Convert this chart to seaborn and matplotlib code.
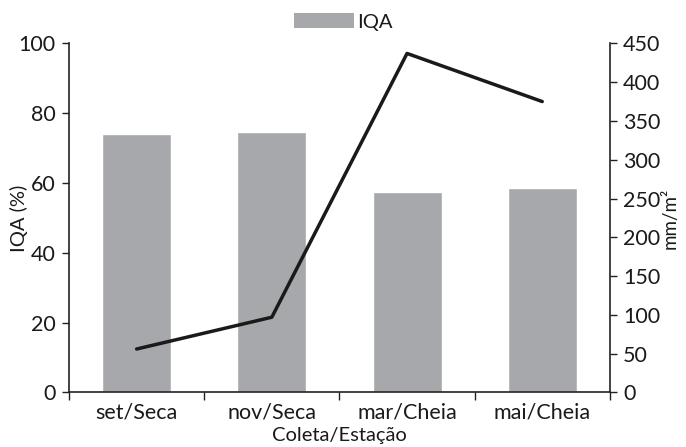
import matplotlib
matplotlib.use("Agg")
import matplotlib.pyplot as plt
from matplotlib.patches import Patch
import seaborn as sns
import pandas as pd

categories = ["set/Seca", "nov/Seca", "mar/Cheia", "mai/Cheia"]
iqa_values = [74.0, 74.6, 57.4, 58.5]
mm_values = [56, 97, 437, 375]
left_ticks = [0, 20, 40, 60, 80, 100]
right_ticks = [0, 50, 100, 150, 200, 250, 300, 350, 400, 450]

sns.set_theme(style="white")
plt.rcParams["font.family"] = ["Lato", "DejaVu Sans"]

bar_color = "#a7a8ab"
line_color = "#1a1a1a"
text_color = "#1a1a1a"

df = pd.DataFrame({"cat": categories, "iqa": iqa_values, "mm": mm_values})

fig = plt.figure(figsize=(6.86, 4.47), dpi=100)
ax = fig.add_axes([0.1006, 0.122, 0.889 - 0.1006, 0.903 - 0.122])

sns.barplot(data=df, x="cat", y="iqa", color=bar_color, width=0.51,
            saturation=1, ax=ax, errorbar=None)
ax.set_ylim(0, 100)
ax.set_xlim(-0.5, len(categories) - 0.5)
ax.set_yticks(left_ticks)
ax.set_ylabel("IQA (%)", fontsize=14.5, color=text_color)
ax.yaxis.set_label_coords(-0.076, 0.5)
ax.set_xlabel("Coleta/Estação", fontsize=14.5, color=text_color, va="top")
ax.xaxis.set_label_coords(0.5, -0.098)

ax2 = ax.twinx()
sns.pointplot(data=df, x="cat", y="mm", color=line_color, marker="",
              linewidth=2.5, errorbar=None, ax=ax2)
ax2.set_ylim(0, 450)
ax2.set_xlim(-0.5, len(categories) - 0.5)
ax2.set_yticks(right_ticks)
ax2.set_ylabel("mm/m²", fontsize=13.5, color=text_color)
ax2.yaxis.set_label_coords(1.0965, 0.5)
ax2.set_xlabel("")

# x ticks: labels at centers, tick marks at category boundaries
ax.set_xticks(range(len(categories)))
ax.set_xticklabels(categories)
ax.set_xticks([i - 0.5 for i in range(len(categories) + 1)], minor=True)
ax.tick_params(axis="x", which="major", length=0, labelsize=15.5, pad=7,
               labelcolor=text_color)
ax.tick_params(axis="x", which="minor", length=6, width=1, color="#222222",
               direction="out", bottom=True)
ax.tick_params(axis="y", length=5, width=1, color="#222222", labelsize=15.5,
               direction="out", left=True, pad=4.5, labelcolor=text_color)
ax2.tick_params(axis="y", length=5, width=1, color="#222222", labelsize=15.5,
                direction="out", right=True, pad=4.5, labelcolor=text_color)

for a in (ax, ax2):
    a.spines["top"].set_visible(False)
    for s in ("left", "right", "bottom"):
        a.spines[s].set_color("#222222")
        a.spines[s].set_linewidth(1.2)
    a.grid(False)
ax.spines["right"].set_visible(False)
ax2.spines["left"].set_visible(False)
ax2.spines["bottom"].set_visible(False)

fig.legend(handles=[Patch(facecolor=bar_color, edgecolor="none", label="IQA")],
           loc="upper center", bbox_to_anchor=(0.5, 1.0), frameon=False,
           fontsize=14.5, handlelength=3.0, handleheight=0.8, handletextpad=0.15,
           borderaxespad=0.25, labelcolor=text_color)

fig.savefig("out.png", dpi=100)
